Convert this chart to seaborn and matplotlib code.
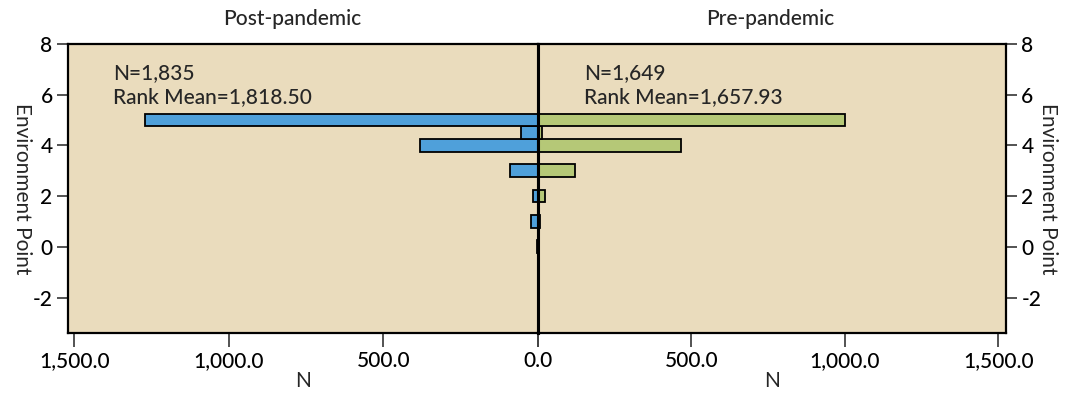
import matplotlib
matplotlib.use("Agg")
import matplotlib.pyplot as plt
import seaborn as sns
import pandas as pd
from matplotlib.ticker import FuncFormatter

# ---- data ----
points = [5.0, 4.5, 4.0, 3.0, 2.0, 1.0, 0.0]
post_counts = [1270, 56, 381, 91, 17, 23, 4]
pre_counts = [1000, 14, 466, 122, 24, 6, 0]
panel_titles = ["Post-pandemic", "Pre-pandemic"]
post_stats = ["N=1,835", "Rank Mean=1,818.50"]
pre_stats = ["N=1,649", "Rank Mean=1,657.93"]
y_ticks = [-2, 0, 2, 4, 6, 8]
x_ticks = [0, 500, 1000, 1500]

sns.set_style("ticks")
plt.rcParams['font.family'] = ['Lato', 'DejaVu Sans']
plt.rcParams['font.weight'] = 'medium'
plt.rcParams['axes.unicode_minus'] = False

BG = "#EADCBD"
BLUE = "#4FA0DA"
GREEN = "#B5C877"
FS = 15

fig = plt.figure(figsize=(10.66, 3.95), dpi=100)
axL = fig.add_axes([68/1066, 1-333/395, 470/1066, 289/395])
axR = fig.add_axes([538/1066, 1-333/395, 468/1066, 289/395])

df_post = pd.DataFrame({"point": points, "n": post_counts})
df_pre = pd.DataFrame({"point": points, "n": pre_counts})

sns.barplot(data=df_post, x="n", y="point", orient="y", native_scale=True,
            color=BLUE, saturation=1, edgecolor="black", linewidth=1.3,
            width=1.0, errorbar=None, ax=axL)
sns.barplot(data=df_pre, x="n", y="point", orient="y", native_scale=True,
            color=GREEN, saturation=1, edgecolor="black", linewidth=1.3,
            width=1.0, errorbar=None, ax=axR)

fmt = FuncFormatter(lambda v, p: f"{v:,.1f}")
fmt_left = FuncFormatter(lambda v, p: "" if v == 0 else f"{v:,.1f}")
for ax in (axL, axR):
    ax.set_facecolor(BG)
    ax.set_ylim(-3.4, 8)
    ax.set_yticks(y_ticks)
    ax.set_xticks(x_ticks)
    ax.tick_params(axis="both", labelsize=FS, direction="out", color="#444444",
                   width=1.3, labelcolor="black")
    ax.tick_params(axis="x", length=10, pad=3)
    ax.tick_params(axis="y", length=8, pad=3)
    ax.set_xlabel("N", fontsize=FS, labelpad=0)
    for s in ax.spines.values():
        s.set_linewidth(1.6)
        s.set_color("black")
axL.xaxis.set_major_formatter(fmt_left)
axR.xaxis.set_major_formatter(fmt)

axL.set_xlim(1520, 0)
axR.set_xlim(0, 1525)

axL.spines["right"].set_linewidth(2.2)
axR.spines["left"].set_linewidth(2.2)

axL.set_ylabel("Environment Point", fontsize=FS, rotation=270)
axL.yaxis.set_label_coords(-0.12, 0.5)

axR.yaxis.tick_right()
axR.yaxis.set_label_position("right")
axR.tick_params(axis="y", left=False, right=True)
axR.set_ylabel("Environment Point", fontsize=FS, rotation=270)
axR.yaxis.set_label_coords(1.112, 0.5)

fig.text(292/1066, 1-19/395, panel_titles[0], ha="center", va="center", fontsize=FS)
fig.text(770/1066, 1-19/395, panel_titles[1], ha="center", va="center", fontsize=FS)

axL.text(1375, 6.85, post_stats[0], ha="left", va="center", fontsize=FS)
axL.text(1375, 5.9, post_stats[1], ha="left", va="center", fontsize=FS)
axR.text(150, 6.85, pre_stats[0], ha="left", va="center", fontsize=FS)
axR.text(150, 5.9, pre_stats[1], ha="left", va="center", fontsize=FS)

fig.savefig("out.png", dpi=100, facecolor="white")
